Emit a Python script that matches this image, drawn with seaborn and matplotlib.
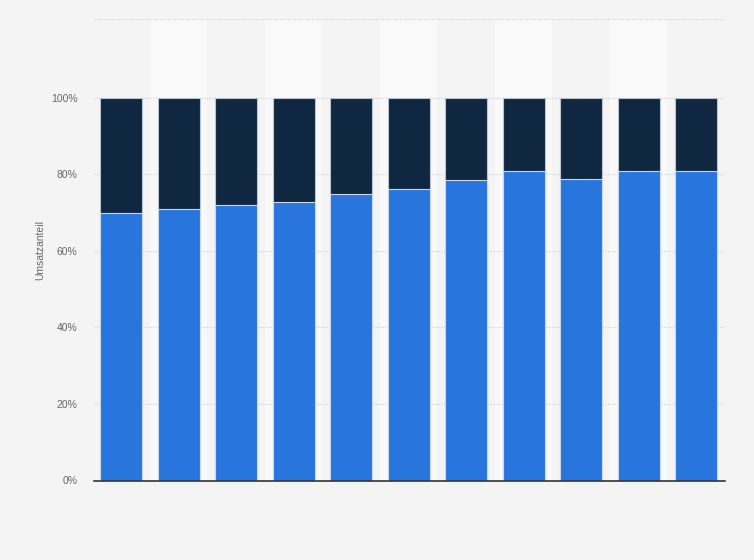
import matplotlib
matplotlib.use("Agg")
import matplotlib.pyplot as plt
import seaborn as sns
import pandas as pd

# eleven periods, no category labels are shown on the chart
periods = [str(i) for i in range(1, 12)]
share_blue = [0.698, 0.709, 0.721, 0.729, 0.748, 0.763, 0.786, 0.810, 0.788, 0.808, 0.808]
share_total = [1.0] * len(periods)
y_ticks = [0.0, 0.2, 0.4, 0.6, 0.8, 1.0]
y_tick_labels = ["0%", "20%", "40%", "60%", "80%", "100%"]

BLUE = "#2876dd"
NAVY = "#0f2740"
BG = "#f4f4f4"
BAND = "#f9f9f9"

df = pd.DataFrame({"period": periods, "blue": share_blue, "total": share_total})

sns.set_style("white")
plt.rcParams["font.family"] = ["Liberation Sans", "DejaVu Sans"]

fig = plt.figure(figsize=(7.54, 5.6), dpi=100, facecolor=BG)
ax = fig.add_axes([94 / 754, 1 - 480.5 / 560, 631 / 754, 461.5 / 560])
ax.set_facecolor(BG)

# alternating column bands behind the bars
for i in range(1, len(periods), 2):
    ax.axvspan(i - 0.5, i + 0.5, color=BAND, zorder=0, lw=0)

sns.barplot(data=df, x="period", y="total", color=NAVY, width=0.73,
            edgecolor="#b9c4cf", linewidth=0.8, saturation=1, ax=ax, zorder=2)
sns.barplot(data=df, x="period", y="blue", color=BLUE, width=0.73,
            edgecolor="#c9d6e6", linewidth=0.8, saturation=1, ax=ax, zorder=3)

ax.set_xlim(-0.47, len(periods) - 0.5)
ax.set_ylim(0, 1.206)
ax.set_yticks(y_ticks + [1.206])
ax.set_yticklabels(y_tick_labels + [""], fontsize=7.5, color="#666666")
ax.set_xticks([])
ax.set_xlabel("")
ax.set_ylabel("Umsatzanteil", fontsize=7.5, color="#666666", labelpad=4)
ax.tick_params(axis="y", length=0, pad=12)

ax.grid(axis="y", color="#d2d2d2", linestyle=(0, (1, 1.2)), linewidth=0.8, zorder=1)
ax.set_axisbelow(True)
for side in ["top", "right", "left"]:
    ax.spines[side].set_visible(False)
ax.spines["bottom"].set_color("#333333")
ax.spines["bottom"].set_linewidth(1.2)
ax.spines["bottom"].set_zorder(5)

fig.savefig("out.png", dpi=100, facecolor=BG)
